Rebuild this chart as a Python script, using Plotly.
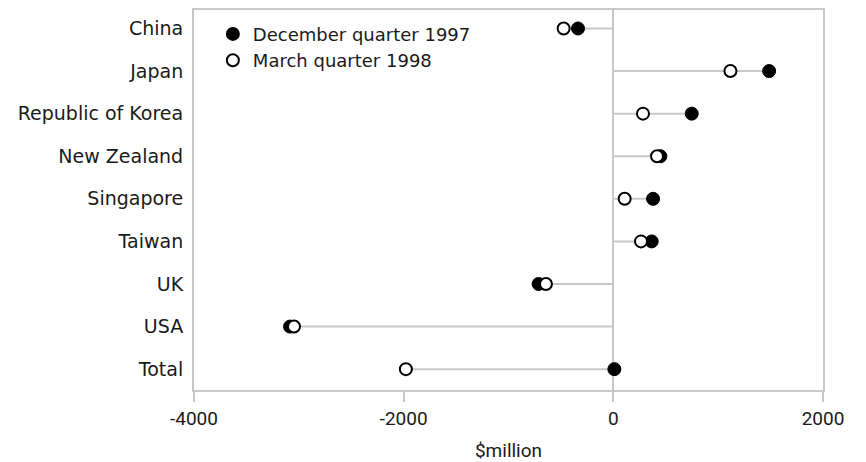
import plotly.graph_objects as go

countries = ["China", "Japan", "Republic of Korea", "New Zealand", "Singapore",
             "Taiwan", "UK", "USA", "Total"]
dec_1997 = [-337, 1486, 748, 449, 379, 366, -713, -3084, 10]
mar_1998 = [-474, 1117, 283, 417, 108, 264, -643, -3046, -1979]
x_ticks = [-4000, -2000, 0, 2000]

grey = "#c8c8c8"
font_fam = "DejaVu Sans"
num_fam = "Roboto"

lx, ly = [], []
for c, a, b in zip(countries, dec_1997, mar_1998):
    lx += [min(0, a, b), max(0, a, b), None]
    ly += [c, c, None]

fig = go.Figure()
fig.add_trace(go.Scatter(x=lx, y=ly, mode="lines", line=dict(color=grey, width=2),
                         showlegend=False, hoverinfo="skip"))
fig.add_trace(go.Scatter(x=dec_1997, y=countries, mode="markers", name="December quarter 1997",
                         marker=dict(symbol="circle", size=13, color="black",
                                     line=dict(color="black", width=1))))
fig.add_trace(go.Scatter(x=mar_1998, y=countries, mode="markers", name="March quarter 1998",
                         marker=dict(symbol="circle", size=12, color="white",
                                     line=dict(color="black", width=2))))

fig.update_layout(
    width=858, height=454,
    margin=dict(l=186, r=43, t=2, b=72),
    plot_bgcolor="white", paper_bgcolor="white",
    font=dict(family=font_fam, size=18, color="#1a1a1a"),
    legend=dict(x=0.03, y=0.985, xanchor="left", yanchor="top",
                bgcolor="rgba(0,0,0,0)", font=dict(size=18), tracegroupgap=0,
                itemsizing="constant"),
    xaxis=dict(range=[-4000, 2000], tickvals=x_ticks, ticktext=[str(v) for v in x_ticks],
               showgrid=False, zeroline=True, zerolinecolor=grey, zerolinewidth=2,
               showline=True, linecolor=grey, linewidth=2, mirror=True,
               ticks="outside", ticklen=10, tickcolor=grey, tickwidth=2, automargin=False,
               title=dict(text="$million", font=dict(family=num_fam, size=19), standoff=19),
               tickfont=dict(family=num_fam, size=19)),
    yaxis=dict(categoryorder="array", categoryarray=countries,
               range=[8.49, -0.434], showgrid=False, zeroline=False,
               showline=True, linecolor=grey, linewidth=2, mirror=True, automargin=False,
               ticks="", ticklabelstandoff=5, tickfont=dict(size=19)),
)

fig.write_html("out.html")
